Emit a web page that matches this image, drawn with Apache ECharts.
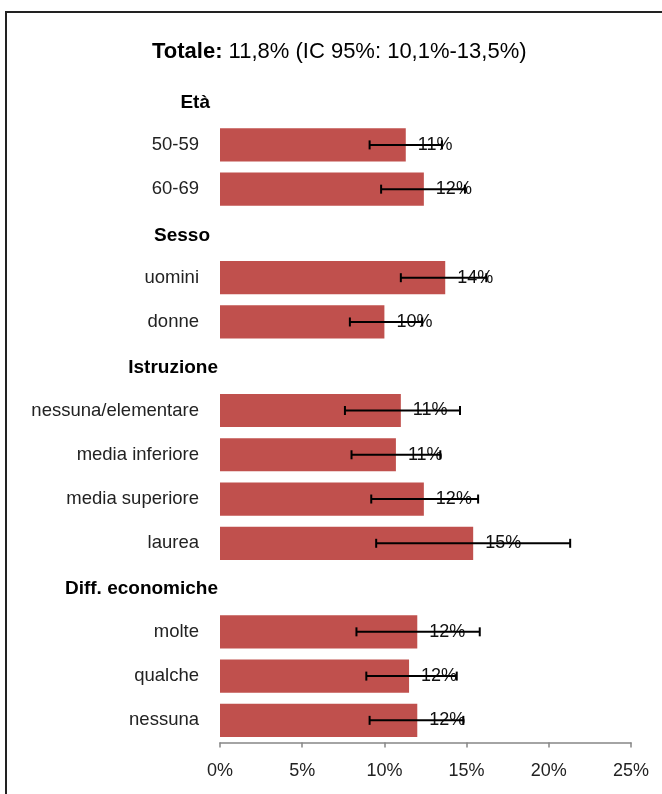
<!DOCTYPE html>
<html>
<head>
<meta charset="utf-8">
<script src="https://cdn.jsdelivr.net/npm/echarts@6/dist/echarts.min.js"></script>
<style>
html, body { margin: 0; padding: 0; background: #fff; }
#main { width: 662px; height: 794px; }
</style>
</head>
<body>
<div id="main"></div>
<script>
// righe del grafico (le intestazioni non hanno barra)
var categories = ['Età', '50-59', '60-69', 'Sesso', 'uomini', 'donne',
	'Istruzione', 'nessuna/elementare', 'media inferiore', 'media superiore', 'laurea',
	'Diff. economiche', 'molte', 'qualche', 'nessuna'];
var headersShort = ['Età', 'Sesso'];
var headersLong = ['Istruzione', 'Diff. economiche'];
// prevalenza (%)
var values = [null, 11.3, 12.4, null, 13.7, 10.0, null, 11.0, 10.7, 12.4, 15.4, null, 12.0, 11.5, 12.0];
// IC 95%
var errLow = [null, 9.1, 9.8, null, 11.0, 7.9, null, 7.6, 8.0, 9.2, 9.5, null, 8.3, 8.9, 9.1];
var errHigh = [null, 13.5, 14.9, null, 16.2, 12.3, null, 14.6, 13.4, 15.7, 21.3, null, 15.8, 14.4, 14.8];
var xTicks = [0, 5, 10, 15, 20, 25];

var chart = echarts.init(document.getElementById('main'));
var font = 'Liberation Sans';

var errData = [];
for (var i = 0; i < categories.length; i++) {
	if (errLow[i] != null) {
		errData.push([i, errLow[i], errHigh[i]]);
	}
}

var option = {
	animation: false,
	backgroundColor: '#fff',
	textStyle: { fontFamily: font },
	graphic: [{
		type: 'rect',
		shape: { x: 6, y: 12, width: 700, height: 820 },
		style: { fill: 'none', stroke: '#222', lineWidth: 2 },
		silent: true
	}],
	title: {
		text: '{b|Totale:} 11,8% (IC 95%: 10,1%-13,5%)',
		left: 152,
		top: 41,
		padding: 0,
		textStyle: {
			fontFamily: font,
			fontSize: 22,
			fontWeight: 'normal',
			color: '#000',
			rich: {
				b: { fontFamily: font, fontSize: 22, fontWeight: 'bold', color: '#000' }
			}
		}
	},
	grid: {
		left: 220,
		right: 31,
		top: 78.5,
		bottom: 794 - 742.5
	},
	xAxis: {
		type: 'value',
		min: xTicks[0],
		max: xTicks[xTicks.length - 1],
		interval: 5,
		splitLine: { show: false },
		axisLine: { show: true, lineStyle: { color: '#868686', width: 1.5 } },
		axisTick: { show: true, length: 5, lineStyle: { color: '#868686', width: 1.5 } },
		axisLabel: {
			margin: 20,
			fontSize: 18,
			color: '#222',
			fontFamily: font,
			formatter: '{value}%'
		}
	},
	yAxis: {
		type: 'category',
		inverse: true,
		data: categories,
		axisLine: { show: false },
		axisTick: { show: false },
		axisLabel: {
			margin: 2,
			interval: 0,
			formatter: function (v) {
				if (headersShort.indexOf(v) >= 0) return '{h1|' + v + '}';
				if (headersLong.indexOf(v) >= 0) return '{h2|' + v + '}';
				return '{n|' + v + '}';
			},
			rich: {
				h1: { fontFamily: font, fontSize: 19, fontWeight: 'bold', color: '#000', padding: [5, 8, 0, 0] },
				h2: { fontFamily: font, fontSize: 19, fontWeight: 'bold', color: '#000', padding: [3, 0, 0, 0] },
				n: { fontFamily: font, fontSize: 18.5, color: '#222', padding: [0, 19, 0, 0] }
			}
		}
	},
	series: [{
		type: 'bar',
		data: values,
		barCategoryGap: '25%',
		itemStyle: { color: '#C0504D' },
		label: {
			show: true,
			position: 'right',
			distance: 12,
			fontFamily: font,
			fontSize: 18,
			color: '#111',
			formatter: function (p) {
				return p.value == null ? '' : Math.round(p.value) + '%';
			}
		},
		z: 2
	}, {
		type: 'custom',
		data: errData,
		z: 3,
		renderItem: function (params, api) {
			var idx = api.value(0);
			var a = api.coord([api.value(1), idx]);
			var b = api.coord([api.value(2), idx]);
			var h = 4.5;
			var st = { stroke: '#000', lineWidth: 2 };
			return {
				type: 'group',
				children: [
					{ type: 'line', shape: { x1: a[0], y1: a[1], x2: b[0], y2: b[1] }, style: st },
					{ type: 'line', shape: { x1: a[0], y1: a[1] - h, x2: a[0], y2: a[1] + h }, style: st },
					{ type: 'line', shape: { x1: b[0], y1: b[1] - h, x2: b[0], y2: b[1] + h }, style: st }
				]
			};
		},
		encode: { x: [1, 2], y: 0 }
	}]
};

chart.setOption(option);
window.onresize = function () {
	chart.resize();
};
</script>
</body>
</html>
